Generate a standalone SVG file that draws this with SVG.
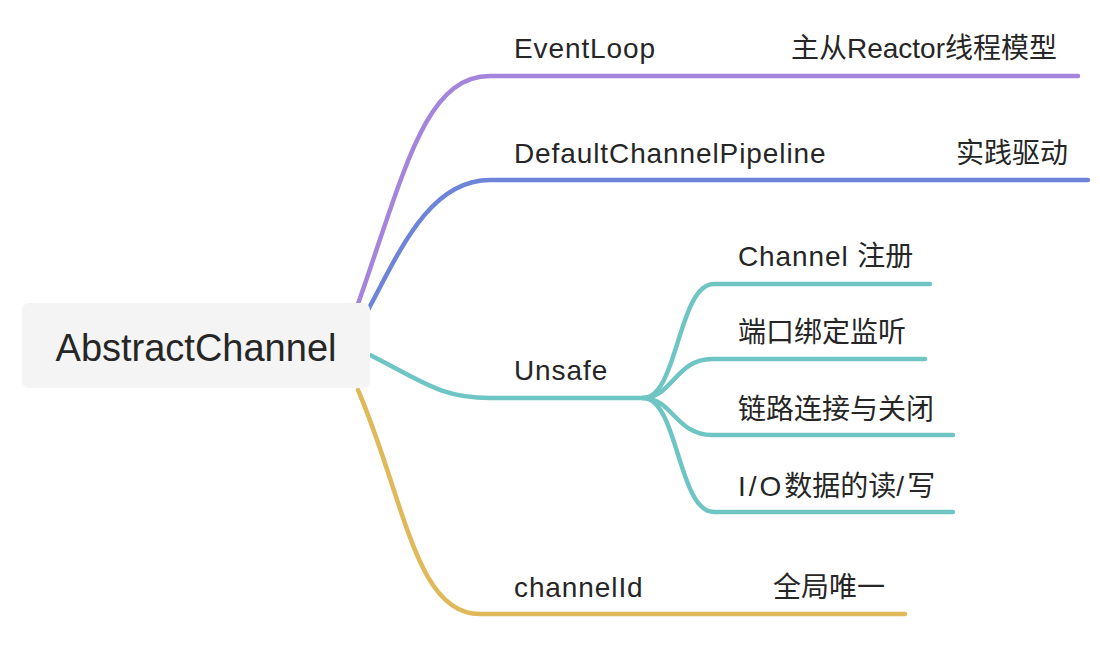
<svg xmlns="http://www.w3.org/2000/svg" width="1100" height="650" viewBox="0 0 1100 650">
<style>
.lbl{font-family:"Liberation Sans","Noto Sans CJK SC",sans-serif;font-size:28px;fill:#262626}
.lat{letter-spacing:0.9px}
.root{font-family:"Liberation Sans","Noto Sans CJK SC",sans-serif;font-size:38px;fill:#262626}
.e{fill:none;stroke-width:4.5;stroke-linecap:round}
.p{stroke:#a585dc}.b{stroke:#6d84d8}.t{stroke:#6fc5c3}.y{stroke:#e0b95b}
</style>
<rect width="1100" height="650" fill="#ffffff"/>
<g id="connectors">
<path class="e p" d="M358 304 C405 170 425 76 490 76 L1078 76"/>
<path class="e b" d="M368 310 C400 250 430 180 490 180 L1088 180"/>
<path class="e t" d="M370 355 C420 380 440 398 490 398 L643 398"/>
<path class="e t" d="M643 398 C678 398 678 284 714 284 L930 284"/>
<path class="e t" d="M643 398 C672 398 676 359 712 359 L925 359"/>
<path class="e t" d="M643 398 C672 398 676 435 712 435 L953 435"/>
<path class="e t" d="M643 398 C678 398 678 512 714 512 L953 512"/>
<path class="e y" d="M358 390 C405 500 415 614 480 614 L905 614"/>
</g>
<g id="root">
<rect x="22" y="303" width="348" height="85" rx="7" fill="#f4f4f4"/>
<text class="root" x="196" y="361" text-anchor="middle">AbstractChannel</text>
</g>
<g id="eventloop">
<text class="lbl lat" x="514" y="58">EventLoop</text>
<text class="lbl" x="1057" y="58" text-anchor="end">主从Reactor线程模型</text>
</g>
<g id="pipeline">
<text class="lbl lat" x="514" y="163">DefaultChannelPipeline</text>
<text class="lbl" x="1068" y="163" text-anchor="end">实践驱动</text>
</g>
<g id="unsafe">
<text class="lbl lat" x="514" y="380">Unsafe</text>
</g>
<g id="register"><text class="lbl" x="738" y="266"><tspan class="lat">Channel </tspan>注册</text></g>
<g id="bind"><text class="lbl" x="738" y="342">端口绑定监听</text></g>
<g id="connect"><text class="lbl" x="738" y="419">链路连接与关闭</text></g>
<g id="io"><text class="lbl" x="738" y="496"><tspan letter-spacing="3">I/O</tspan>数据的读<tspan letter-spacing="3">/</tspan>写</text></g>
<g id="channelid">
<text class="lbl lat" x="514" y="597">channelId</text>
<text class="lbl" x="773" y="597">全局唯一</text>
</g>
</svg>
